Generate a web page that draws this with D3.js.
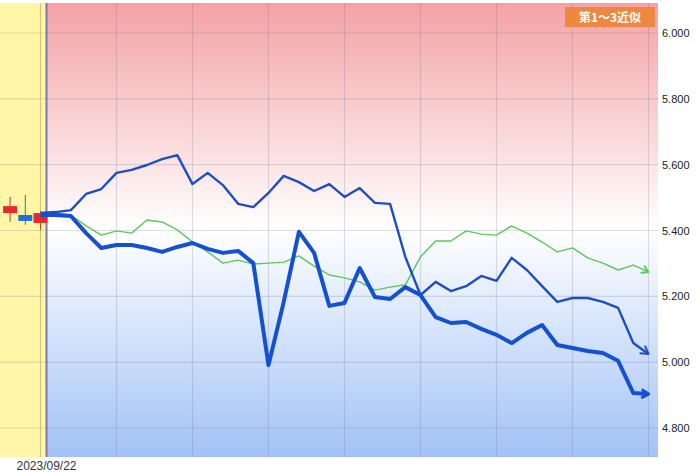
<!DOCTYPE html>
<html><head><meta charset="utf-8">
<script src="https://cdn.jsdelivr.net/npm/d3@7"></script>
<style>html,body{margin:0;padding:0;background:#fff;}svg{display:block;font-family:"Liberation Sans",Arial,sans-serif;}</style>
</head><body><svg id="c" width="700" height="473"></svg>
<script>
// ---- data ----
const yTicks = [4.8, 5.0, 5.2, 5.4, 5.6, 5.8, 6.0];
const dateLabel = "2023/09/22";
const badgeText = "第1～3近似";
// past candles (index -2..0): open, high, low, close
const candleIdx   = [-2, -1, 0];
const candleOpen  = [5.453, 5.447, 5.423];
const candleClose = [5.474, 5.429, 5.453];
const candleHigh  = [5.502, 5.508, 5.459];
const candleLow   = [5.426, 5.417, 5.402];
// forecast series, index 0..40
const series1 = [5.453,5.456,5.462,5.511,5.526,5.575,5.584,5.599,5.617,5.629,5.541,5.575,5.538,5.481,5.471,5.514,5.566,5.547,5.520,5.541,5.502,5.529,5.484,5.481,5.320,5.204,5.244,5.216,5.231,5.262,5.247,5.317,5.280,5.231,5.183,5.195,5.195,5.183,5.165,5.058,5.025];
const series2 = [5.447,5.447,5.444,5.392,5.347,5.356,5.356,5.347,5.335,5.350,5.362,5.344,5.332,5.338,5.301,4.991,5.183,5.396,5.332,5.171,5.180,5.286,5.198,5.192,5.228,5.204,5.137,5.119,5.122,5.101,5.083,5.058,5.089,5.113,5.052,5.043,5.034,5.028,5.004,4.906,4.903];
const series3 = [5.453,5.453,5.447,5.414,5.386,5.399,5.392,5.432,5.426,5.402,5.365,5.335,5.301,5.310,5.298,5.301,5.304,5.323,5.292,5.265,5.256,5.244,5.219,5.228,5.235,5.320,5.368,5.368,5.399,5.389,5.386,5.414,5.392,5.365,5.335,5.347,5.317,5.301,5.280,5.295,5.274];

// ---- layout ----
const svg = d3.select("#c");
const plotTop = 3, plotBottom = 457, plotRight = 658;
const x = d3.scaleLinear().domain([0, 40]).range([40.5, 648.5]);
const y = d3.scaleLinear().domain([4.8, 6.0]).range([428, 33]);
const boundary = x(0) + 6;

const defs = svg.append("defs");
const grad = defs.append("linearGradient").attr("id","bg").attr("x1",0).attr("y1",0).attr("x2",0).attr("y2",1);
grad.append("stop").attr("offset","0%").attr("stop-color","#f4a2a5");
grad.append("stop").attr("offset","50%").attr("stop-color","#ffffff");
grad.append("stop").attr("offset","100%").attr("stop-color","#a2c2f7");

function marker(id, color, size){
  const m = defs.append("marker").attr("id", id).attr("markerUnits","userSpaceOnUse")
    .attr("markerWidth", size*2).attr("markerHeight", size*2)
    .attr("viewBox", `0 0 ${size*2} ${size*2}`).attr("refX", size*1.6).attr("refY", size).attr("orient","auto");
  m.append("path").attr("d", `M${size*0.6},${size*0.4} L${size*1.6},${size} L${size*0.6},${size*1.6}`)
    .attr("fill","none").attr("stroke", color).attr("stroke-width", 2).attr("stroke-linecap","round").attr("stroke-linejoin","round");
}

// background
svg.append("rect").attr("x", boundary).attr("y", plotTop).attr("width", plotRight - boundary).attr("height", plotBottom - plotTop).attr("fill","url(#bg)");
svg.append("rect").attr("x", 0).attr("y", plotTop).attr("width", boundary).attr("height", plotBottom - plotTop).attr("fill","#fff6a8");

// grid
const g = svg.append("g");
g.selectAll(".hg").data(yTicks).join("line")
  .attr("x1", 0).attr("x2", plotRight).attr("y1", d => y(d)).attr("y2", d => y(d))
  .attr("stroke", "rgba(110,110,140,0.22)").attr("stroke-width", 1.2);
const vIdx = d3.range(0, 41, 5);
g.selectAll(".vg").data(vIdx).join("line")
  .attr("x1", d => x(d)).attr("x2", d => x(d)).attr("y1", plotTop).attr("y2", plotBottom)
  .attr("stroke", d => d === 0 ? "rgba(170,160,80,0.55)" : "rgba(110,110,140,0.22)").attr("stroke-width", 1.2);

// boundary line
svg.append("line").attr("x1", boundary).attr("x2", boundary).attr("y1", plotTop).attr("y2", plotBottom)
  .attr("stroke", "#7a78b4").attr("stroke-width", 2);

// candles
const cw = 14;
candleIdx.forEach((ci, k) => {
  const cx = x(ci);
  const up = candleClose[k] >= candleOpen[k];
  const col = up ? "#e8282a" : "#1f6fd6";
  svg.append("line").attr("x1", cx).attr("x2", cx).attr("y1", y(candleHigh[k])).attr("y2", y(candleLow[k]))
    .attr("stroke", up ? "#c04040" : "#3a7a70").attr("stroke-width", 1);
  const top = y(Math.max(candleOpen[k], candleClose[k])), bot = y(Math.min(candleOpen[k], candleClose[k]));
  svg.append("rect").attr("x", cx - cw/2).attr("y", top).attr("width", cw).attr("height", Math.max(1, bot - top)).attr("fill", col);
});

// series
const line = d3.line().x((d, i) => x(i)).y(d => y(d));
const specs = [
  {data: series3, color: "#5ec85a", w: 1.4, id: "m3", size: 6},
  {data: series1, color: "#1d4fc4", w: 2.4, id: "m1", size: 7},
  {data: series2, color: "#1450d2", w: 4, id: "m2", size: 6}
];
specs.forEach(s => {
  marker(s.id, s.color, s.size);
  svg.append("path").datum(s.data).attr("d", line).attr("fill","none")
    .attr("stroke", s.color).attr("stroke-width", s.w).attr("stroke-linejoin","round")
    .attr("marker-end", `url(#${s.id})`);
});
// thicker arrow stroke for series2
d3.select("#m2 path").attr("stroke-width", 3);

// y axis
const ax = svg.append("g").attr("transform", `translate(${plotRight},0)`)
  .call(d3.axisRight(y).tickValues(yTicks).tickFormat(d3.format(".3f")).tickSize(0).tickPadding(4));
ax.select(".domain").remove();
ax.selectAll("text").attr("font-size", 11).attr("fill", "#222").attr("font-family", "'Liberation Sans',Arial,sans-serif");

// date label
svg.append("text").attr("x", boundary).attr("y", 470).attr("text-anchor","middle")
  .attr("font-size", 12).attr("fill", "#333").text(dateLabel);

// badge
svg.append("rect").attr("x", 565).attr("y", 7).attr("width", 90).attr("height", 20).attr("fill", "#ee873f");
svg.append("text").attr("x", 610).attr("y", 21.5).attr("text-anchor","middle")
  .attr("font-size", 12).attr("font-weight","bold").attr("fill","#fff")
  .attr("font-family","'Noto Sans CJK JP',sans-serif").text(badgeText);
</script></body></html>
